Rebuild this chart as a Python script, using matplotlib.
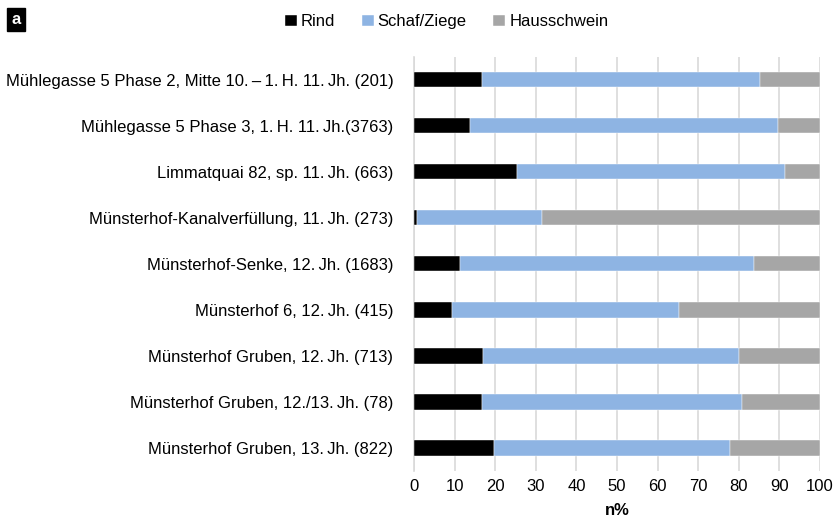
import matplotlib.pyplot as plt
import numpy as np

plt.rcParams['font.family'] = ['Liberation Sans', 'DejaVu Sans']

T = "\u2009"  # thin space
sites = [
    f"Mühlegasse 5 Phase 2, Mitte 10.{T}–{T}1.{T}H. 11.{T}Jh. (201)",
    f"Mühlegasse 5 Phase 3, 1.{T}H. 11.{T}Jh.(3763)",
    f"Limmatquai 82, sp. 11.{T}Jh. (663)",
    f"Münsterhof-Kanalverfüllung, 11.{T}Jh. (273)",
    f"Münsterhof-Senke, 12.{T}Jh. (1683)",
    f"Münsterhof 6, 12.{T}Jh. (415)",
    f"Münsterhof Gruben, 12.{T}Jh. (713)",
    f"Münsterhof Gruben, 12./13.{T}Jh. (78)",
    f"Münsterhof Gruben, 13.{T}Jh. (822)",
]
rind = [16.7, 13.7, 25.3, 0.6, 11.2, 9.3, 17.0, 16.6, 19.6]
schaf_ziege = [68.4, 76.0, 66.2, 30.8, 72.5, 55.9, 63.1, 64.2, 58.2]
hausschwein = [100 - r - s for r, s in zip(rind, schaf_ziege)]

colors = ["#000000", "#8EB4E3", "#A6A6A6"]
names = ["Rind", "Schaf/Ziege", "Hausschwein"]

fig = plt.figure(figsize=(8.35, 5.21), dpi=100)
ax = fig.add_axes([0.496, 0.096, 0.486, 0.795])

y = np.arange(len(sites))
left = np.zeros(len(sites))
for vals, c, n in zip([rind, schaf_ziege, hausschwein], colors, names):
    ax.barh(y, vals, left=left, height=0.33, color=c, label=n,
            edgecolor="white", linewidth=0.3, zorder=3)
    left += np.array(vals)

ax.set_xlim(0, 100)
ax.set_ylim(len(sites) - 0.5, -0.5)
ax.set_xticks(np.arange(0, 101, 10))
ax.set_yticks(y)
ax.set_yticklabels(sites, fontsize=12)
ax.tick_params(axis="x", labelsize=12, length=0, pad=6)
ax.tick_params(axis="y", length=0, pad=15)
ax.grid(axis="x", color="#D9D9D9", linewidth=1.2, zorder=0)
for s in ["top", "right", "bottom"]:
    ax.spines[s].set_visible(False)
ax.spines["left"].set_color("#D9D9D9")
ax.spines["left"].set_linewidth(1.2)
ax.set_xlabel("n%", fontsize=12, fontweight="bold", labelpad=6)

fig.legend(loc="center", bbox_to_anchor=(0.535, 0.958), ncol=3, frameon=False,
           fontsize=12, handlelength=0.7, handleheight=0.7, handletextpad=0.25,
           columnspacing=1.6)

fig.text(0.0195, 0.962, "a", fontsize=12, fontweight="bold", color="white",
         va="center", ha="center",
         bbox=dict(boxstyle="square,pad=0.25", facecolor="black", edgecolor="black"))

fig.savefig("out.png", dpi=100)
